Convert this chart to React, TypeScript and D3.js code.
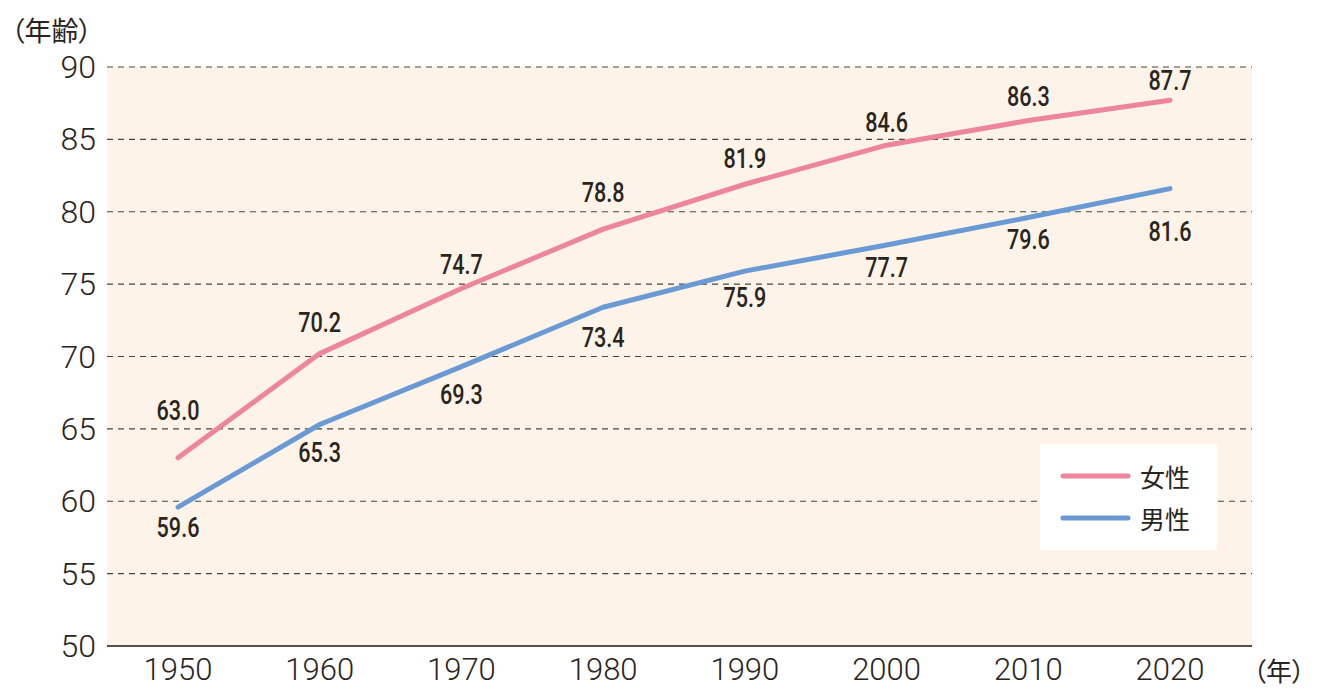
import React from "react";
import * as d3 from "d3";

const years = ["1950", "1960", "1970", "1980", "1990", "2000", "2010", "2020"];
const female = [63.0, 70.2, 74.7, 78.8, 81.9, 84.6, 86.3, 87.7];
const male = [59.6, 65.3, 69.3, 73.4, 75.9, 77.7, 79.6, 81.6];
const yTicks = [50, 55, 60, 65, 70, 75, 80, 85, 90];
const seriesNames = ["女性", "男性"];

// label offsets (layout only)
const femaleDy = [-47, -31, -24, -37, -26, -23, -24, -20];
const maleDy = [21, 28, 28, 30, 27, 23, 22, 43];

const W = 1319;
const H = 700;
const plotLeft = 107;
const plotRight = 1252;
const plotTop = 67;
const plotBottom = 646;

const x = d3.scalePoint<string>().domain(years).range([178, 1170]);
const y = d3.scaleLinear().domain([50, 90]).range([plotBottom, plotTop]);

const lineGen = d3
  .line<number>()
  .x((_, i) => x(years[i]) as number)
  .y((d) => y(d));

const PINK = "#EE869B";
const BLUE = "#6A9AD4";
const TEXT = "#2a2420";
const tickFont = "Roboto, 'Liberation Sans', sans-serif";
const labelFont = "Roboto, 'Liberation Sans', sans-serif";
const cjkFont = "'Noto Sans CJK JP', sans-serif";

function ValueLabel({ cx, cy, v }: { cx: number; cy: number; v: number }) {
  return (
    <text
      transform={`translate(${cx},${cy}) scale(0.8,1)`}
      textAnchor="middle"
      dominantBaseline="central"
      fontFamily={labelFont}
      fontSize={27}
      fontWeight={500}
      fill={TEXT}
    >
      {v.toFixed(1)}
    </text>
  );
}

export default function App() {
  return (
    <svg width={W} height={H} style={{ position: "absolute", left: 0, top: 0, background: "#fff" }}>
      <rect x={plotLeft} y={plotTop} width={plotRight - plotLeft} height={plotBottom - plotTop} fill="#FDF3E8" />
      {yTicks.filter((t) => t !== 50).map((t) => (
        <line key={t} x1={plotLeft} x2={plotRight} y1={y(t)} y2={y(t)} stroke="#4a4440" strokeWidth={1.2} strokeDasharray="6,5" />
      ))}
      <line x1={plotLeft} x2={plotRight} y1={y(50)} y2={y(50)} stroke="#5a5048" strokeWidth={2} />
      {yTicks.map((t) => (
        <text key={t} x={96} y={y(t)} textAnchor="end" dominantBaseline="central" fontFamily={tickFont} fontSize={32} fontWeight={300} fill={TEXT}>
          {t}
        </text>
      ))}
      {years.map((yr) => (
        <text key={yr} x={x(yr)} y={669} textAnchor="middle" dominantBaseline="central" fontFamily={tickFont} fontSize={31} fontWeight={300} fill={TEXT}>
          {yr}
        </text>
      ))}
      <text x={11} y={29} dominantBaseline="central" fontFamily={cjkFont} fontSize={27} fill={TEXT} style={{ fontFeatureSettings: '"palt"' }}>（年齢）</text>
      <text x={1253} y={669} dominantBaseline="central" fontFamily={cjkFont} fontSize={26} fill={TEXT} style={{ fontFeatureSettings: '"palt"' }}>（年）</text>

      <path d={lineGen(female) || ""} fill="none" stroke={PINK} strokeWidth={5} strokeLinecap="round" strokeLinejoin="round" />
      <path d={lineGen(male) || ""} fill="none" stroke={BLUE} strokeWidth={5} strokeLinecap="round" strokeLinejoin="round" />

      {female.map((v, i) => (
        <ValueLabel key={"f" + i} cx={x(years[i]) as number} cy={y(v) + femaleDy[i]} v={v} />
      ))}
      {male.map((v, i) => (
        <ValueLabel key={"m" + i} cx={x(years[i]) as number} cy={y(v) + maleDy[i]} v={v} />
      ))}

      <rect x={1040} y={444} width={177} height={106} fill="#ffffff" />
      {seriesNames.map((n, i) => (
        <g key={n}>
          <line x1={1063} x2={1128} y1={476 + i * 42} y2={476 + i * 42} stroke={i === 0 ? PINK : BLUE} strokeWidth={5} strokeLinecap="round" />
          <text x={1140} y={476 + i * 42} dominantBaseline="central" fontFamily={cjkFont} fontSize={25} fill={TEXT}>{n}</text>
        </g>
      ))}
    </svg>
  );
}
